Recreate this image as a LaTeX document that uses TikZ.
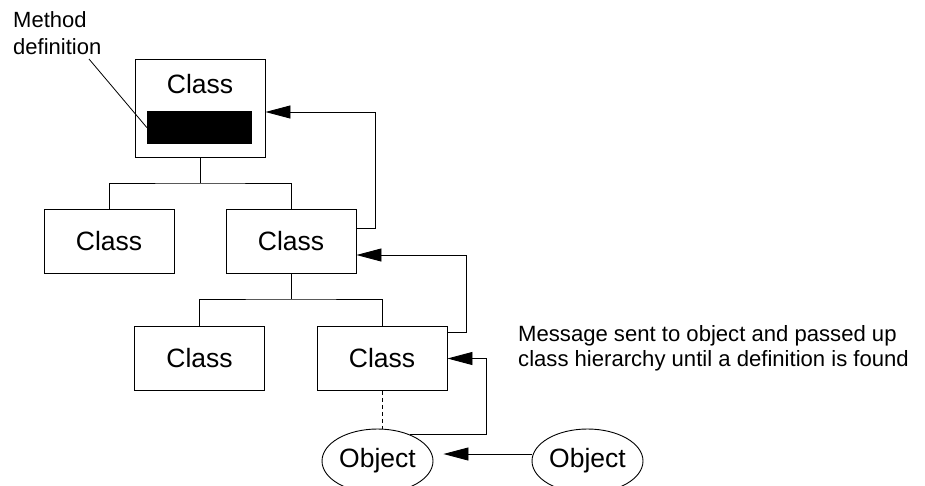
\documentclass[tikz,border=0pt]{standalone}
\usepackage{fontspec}
\setmainfont{Liberation Sans}
\usetikzlibrary{arrows.meta,shapes.geometric}

\tikzset{
  classbox/.style={draw, line width=0.9pt, inner sep=0pt, minimum width=130pt, minimum height=64pt,
    font=\fontsize{26.5}{30}\selectfont},
  objnode/.style={draw, ellipse, line width=0.9pt, inner sep=0pt, minimum width=111pt, minimum height=64pt,
    font=\fontsize{26.5}{30}\selectfont},
  link/.style={line width=0.9pt},
  passup/.style={line width=0.9pt, -{Triangle[length=25pt,width=13pt]}},
  note/.style={align=left, inner sep=0pt, anchor=north west}
}

\begin{document}
\begin{tikzpicture}[x=1pt,y=-1pt]
  \useasboundingbox (0,0) rectangle (925,485);
  \clip (0,0) rectangle (925,485);

  % root class with its method definition
  \node[classbox, minimum height=98pt] (c0) at (200,108) {};
  \node[anchor=base, inner sep=0pt, font=\fontsize{26.5}{30}\selectfont] (c0t) at (200,93) {Class};
  \node[fill=black, inner sep=0pt, minimum width=105pt, minimum height=33pt] (m) at (199.5,127.5) {};

  % subclasses
  \node[classbox] (c1) at (109,241) {Class};
  \node[classbox] (c2) at (291,241) {Class};
  \node[classbox] (c3) at (199.5,358.5) {Class};
  \node[classbox] (c4) at (382,358.5) {Class};

  % objects
  \node[objnode] (o1) at (377.5,461) {Object};
  \node[objnode] (o2) at (587.5,461) {Object};

  % labels
  \node[note, font=\fontsize{22}{27}\selectfont] (mdef) at (13,11.5) {Method\\definition};
  \node[note, font=\fontsize{22.1}{25.5}\selectfont] (msg) at (518,325) {Message sent to object and passed up\\class hierarchy until a definition is found};
  \coordinate (lead) at (89,59);
  \draw[line width=0.8pt] (lead) -- (m.west);

  % inheritance tree
  \coordinate (j0) at (200,183);
  \coordinate (j1) at (291,299);
  \draw[link] (c0.south) -- (j0);
  \draw[link] (c1.north) |- (j0) -| (c2.north);
  \draw[link] (c2.south) -- (j1);
  \draw[link] (c3.north) |- (j1) -| (c4.north);

  % instance of
  \draw[link, dash pattern=on 4pt off 3pt] (c4.south) -- (c4.south |- o1.north);

  % message lookup path
  \draw[passup] ([yshift=7pt]o2.west) -- ([yshift=7pt, xshift=10pt]o1.east);
  \draw[passup] (o1.39) -| ([xshift=39pt]c4.east) -- (c4.east);
  \draw[passup] ([yshift=26.5pt]c4.east) -- ++(19,0) |- ([yshift=-14pt]c2.east);
  \draw[passup] ([yshift=13pt]c2.east) -- ++(19,0) |- ([yshift=-4pt]c0.east);
\end{tikzpicture}
\end{document}
